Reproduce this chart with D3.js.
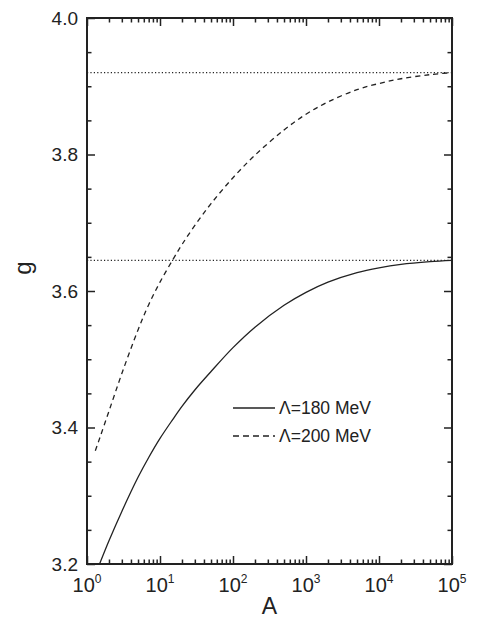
<!DOCTYPE html>
<html>
<head>
<meta charset="utf-8">
<script src="https://cdn.jsdelivr.net/npm/d3@7"></script>
<style>
  html, body { margin: 0; padding: 0; background: #fff; }
  svg { display: block; }
  text { font-family: "Liberation Sans", Arial, sans-serif; fill: #222; }
</style>
</head>
<body>
<svg id="chart" width="477" height="620"></svg>
<script>
// Coupling g versus A for two cutoff values
const aValues = [1.5, 2, 3, 5, 7, 10, 15, 20, 30, 50, 100, 200, 500, 1000, 2000, 5000, 1e4, 2e4, 5e4, 1e5];
const g180 = [3.201, 3.234, 3.277, 3.327, 3.356, 3.384, 3.412, 3.431, 3.455, 3.482, 3.517, 3.547, 3.579, 3.598, 3.613, 3.627, 3.634, 3.639, 3.643, 3.645];

const aValues200 = [1.3, 1.5, 2, 3, 5, 7, 10, 15, 20, 30, 50, 100, 200, 500, 1000, 2000, 5000, 1e4, 2e4, 5e4, 1e5];
const g200 = [3.366, 3.385, 3.424, 3.479, 3.543, 3.580, 3.613, 3.646, 3.668, 3.696, 3.728, 3.766, 3.799, 3.836, 3.859, 3.877, 3.895, 3.904, 3.911, 3.917, 3.920];

// Limiting values (horizontal dotted lines)
const limits = [3.645, 3.920];

const seriesLabels = ["\u039B=180 MeV", "\u039B=200 MeV"];
const xTickExponents = [0, 1, 2, 3, 4, 5];
const yTicks = [3.2, 3.4, 3.6, 3.8, 4.0];

(function draw() {
  const svg = d3.select("#chart");
  const pLeft = 87, pRight = 452, pTop = 18, pBottom = 564;
  const ink = "#222";

  const x = d3.scaleLog().domain([1, 1e5]).range([pLeft, pRight]);
  const y = d3.scaleLinear().domain([3.2, 4.0]).range([pBottom, pTop]);

  // Minor tick positions
  const xMinor = [];
  for (let e = 0; e < 5; e++) for (let m = 2; m <= 9; m++) xMinor.push(m * Math.pow(10, e));
  const yMinor = d3.range(3.2, 4.0001, 0.05).map(v => +v.toFixed(2))
    .filter(v => !yTicks.some(t => Math.abs(t - v) < 1e-6));
  const xMajor = xTickExponents.map(e => Math.pow(10, e));

  function styleAxis(g) {
    g.select(".domain").remove();
    g.selectAll(".tick line").attr("stroke", ink).attr("stroke-width", 1.5);
  }

  // Inward ticks on all four sides
  const axes = [
    [d3.axisBottom(x), xMinor, -4.5, `translate(0,${pBottom})`],
    [d3.axisBottom(x), xMajor, -8, `translate(0,${pBottom})`],
    [d3.axisTop(x), xMinor, -4.5, `translate(0,${pTop})`],
    [d3.axisTop(x), xMajor, -8, `translate(0,${pTop})`],
    [d3.axisLeft(y), yMinor, -4.5, `translate(${pLeft},0)`],
    [d3.axisLeft(y), yTicks, -8, `translate(${pLeft},0)`],
    [d3.axisRight(y), yMinor, -4.5, `translate(${pRight},0)`],
    [d3.axisRight(y), yTicks, -8, `translate(${pRight},0)`]
  ];
  axes.forEach(([ax, vals, size, tr]) => {
    svg.append("g").attr("transform", tr)
      .call(ax.tickValues(vals).tickSize(size).tickFormat(""))
      .call(styleAxis);
  });

  // Frame
  svg.append("rect")
    .attr("x", pLeft).attr("y", pTop)
    .attr("width", pRight - pLeft).attr("height", pBottom - pTop)
    .attr("fill", "none").attr("stroke", ink).attr("stroke-width", 2);

  // Y tick labels
  svg.append("g").selectAll("text").data(yTicks).join("text")
    .attr("x", pLeft - 9)
    .attr("y", d => y(d) + 6.5)
    .attr("text-anchor", "end")
    .attr("font-size", 19)
    .text(d => d.toFixed(1));

  // X tick labels: 10 with superscript exponent
  const xl = svg.append("g").selectAll("text").data(xTickExponents).join("text")
    .attr("x", d => x(Math.pow(10, d)))
    .attr("y", pBottom + 28)
    .attr("text-anchor", "middle")
    .attr("font-size", 20);
  xl.append("tspan").text("10");
  xl.append("tspan").attr("font-size", 12).attr("dy", -9).text(d => d);

  // Axis titles
  svg.append("text")
    .attr("x", (pLeft + pRight) / 2).attr("y", 614)
    .attr("text-anchor", "middle")
    .attr("font-size", 23)
    .text("A");
  svg.append("text")
    .attr("transform", `translate(31,268) rotate(-90)`)
    .attr("text-anchor", "middle")
    .attr("font-size", 24)
    .text("g");

  // Plot area clip
  svg.append("clipPath").attr("id", "plot")
    .append("rect").attr("x", pLeft).attr("y", pTop)
    .attr("width", pRight - pLeft).attr("height", pBottom - pTop);
  const plot = svg.append("g").attr("clip-path", "url(#plot)");

  // Dotted limit lines
  plot.selectAll("line.limit").data(limits).join("line")
    .attr("class", "limit")
    .attr("x1", pLeft).attr("x2", pRight)
    .attr("y1", d => y(d)).attr("y2", d => y(d))
    .attr("stroke", ink).attr("stroke-width", 1.2)
    .attr("stroke-dasharray", "1.2,2.2");

  const line = d3.line().x(d => x(d[0])).y(d => y(d[1])).curve(d3.curveCatmullRom.alpha(0.5));

  plot.append("path")
    .datum(d3.zip(aValues, g180))
    .attr("d", line)
    .attr("fill", "none").attr("stroke", ink).attr("stroke-width", 1.3);

  plot.append("path")
    .datum(d3.zip(aValues200, g200))
    .attr("d", line)
    .attr("fill", "none").attr("stroke", ink).attr("stroke-width", 1.3)
    .attr("stroke-dasharray", "5,4");

  // Legend
  const legend = svg.append("g");
  const legendRows = [
    { label: seriesLabels[0], dash: null, yPos: 408 },
    { label: seriesLabels[1], dash: "6,4", yPos: 436 }
  ];
  legendRows.forEach(r => {
    legend.append("line")
      .attr("x1", 233).attr("x2", 275)
      .attr("y1", r.yPos).attr("y2", r.yPos)
      .attr("stroke", ink).attr("stroke-width", 1.3)
      .attr("stroke-dasharray", r.dash);
    legend.append("text")
      .attr("x", 279).attr("y", r.yPos + 6)
      .attr("font-size", 17.5)
      .text(r.label);
  });
})();
</script>
</body>
</html>
